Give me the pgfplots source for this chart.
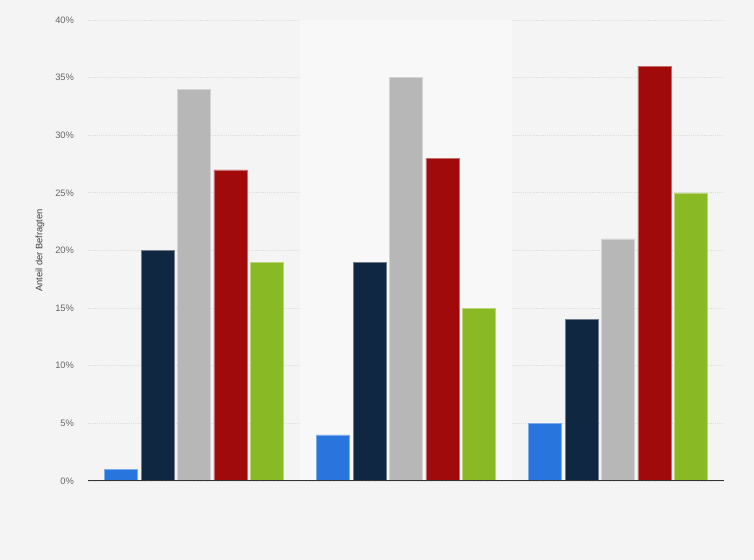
\documentclass[border=0pt]{standalone}
\usepackage{fontspec}
\setmainfont{Liberation Sans}
\usepackage{pgfplots}
\pgfplotsset{compat=1.18}

\definecolor{bg}{HTML}{F4F4F4}
\definecolor{band}{HTML}{F8F8F8}
\definecolor{cblue}{HTML}{2876DD}
\definecolor{cnavy}{HTML}{0F2740}
\definecolor{cgray}{HTML}{B7B7B7}
\definecolor{cred}{HTML}{A10A0A}
\definecolor{cgreen}{HTML}{89B925}
\definecolor{ticktxt}{HTML}{666666}

\begin{document}
\begin{tikzpicture}
  % canvas 754 x 560 px at 0.75pt/px
  \fill[bg] (0,0) rectangle (565.5pt,420pt);
  \begin{axis}[
      at={(66pt,59.25pt)}, anchor=south west,
      width=477pt, height=345.75pt, scale only axis,
      xmin=-0.5, xmax=2.5, ymin=0, ymax=40,
      xtick=\empty,
      ytick={0,5,...,40},
      yticklabels={0\%,5\%,10\%,15\%,20\%,25\%,30\%,35\%,40\%},
      ymajorgrids,
      grid style={densely dotted, draw=black!13, line width=0.6pt},
      major tick length=0pt,
      axis line style={draw=none},
      yticklabel style={font=\fontsize{7}{8}\selectfont, text=ticktxt, anchor=east, xshift=-7pt},
      ylabel={Anteil der Befragten},
      ylabel style={font=\fontsize{7}{8}\selectfont, text=black!75, at={(axis description cs:-0.0755,0.5)}, anchor=center},
      ybar=2.6pt, bar width=24.75pt,
    ]
    \fill[band] (axis cs:0.5,0) rectangle (axis cs:1.5,40);
    \addplot[fill=cblue, draw=cblue!60!white, line width=0.3pt] coordinates {(0,1) (1,4) (2,5)};
    \addplot[fill=cnavy, draw=cnavy!60!white, line width=0.3pt] coordinates {(0,20) (1,19) (2,14)};
    \addplot[fill=cgray, draw=cgray!60!white, line width=0.3pt] coordinates {(0,34) (1,35) (2,21)};
    \addplot[fill=cred, draw=cred!60!white, line width=0.3pt] coordinates {(0,27) (1,28) (2,36)};
    \addplot[fill=cgreen, draw=cgreen!60!white, line width=0.3pt] coordinates {(0,19) (1,15) (2,25)};
    \draw[black!80, line width=1pt] (axis cs:-0.5,0) -- (axis cs:2.5,0);
  \end{axis}
\end{tikzpicture}
\end{document}
